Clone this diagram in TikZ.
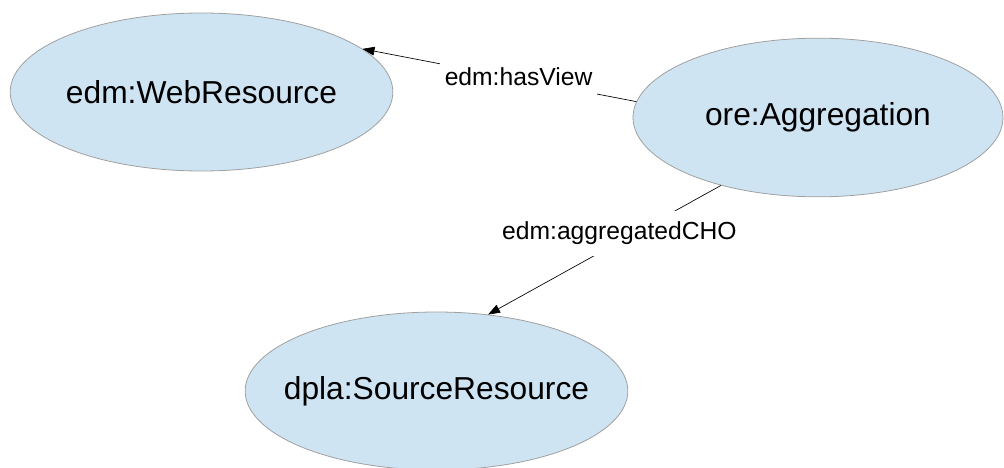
\documentclass[tikz,border=0pt]{standalone}
\usepackage{fontspec}
\setmainfont{Liberation Sans}
\usetikzlibrary{shapes.geometric, arrows.meta}
\definecolor{nodeblue}{RGB}{207,228,242}
\definecolor{rimgray}{RGB}{160,160,160}

\begin{document}
\begin{tikzpicture}[x=0.75pt, y=-0.75pt,
    res/.style={ellipse, draw=rimgray, fill=nodeblue, line width=0.6pt, inner ysep=0pt, inner xsep=-20pt, font=\fontsize{23.8}{28}\selectfont},
    rel/.style={draw=black, line width=0.5pt, -{Triangle[length=9pt, width=6.5pt]}},
    lbl/.style={fill=white, inner xsep=3.5pt, inner ysep=8pt, font=\fontsize{18.5}{22}\selectfont}]
    \useasboundingbox (0,0) rectangle (1004,468);
    % resources
    \node[res, minimum width=287pt, minimum height=118.5pt] (web) at (201.5,92) {edm:WebResource};
    \node[res, minimum width=277.5pt, minimum height=119pt] (agg) at (818,117.5) {ore:Aggregation};
    \node[res, minimum width=287pt, minimum height=118.5pt] (src) at (436.5,391) {dpla:SourceResource};
    % properties
    \draw[rel] (agg.175) -- node[lbl, pos=0.43, yshift=1.5pt] (hasview) {edm:hasView} (web.15);
    \draw[rel] (agg.215) -- node[lbl, pos=0.373, xshift=-11pt] (aggcho) {edm:aggregatedCHO} (src.56);
\end{tikzpicture}
\end{document}
